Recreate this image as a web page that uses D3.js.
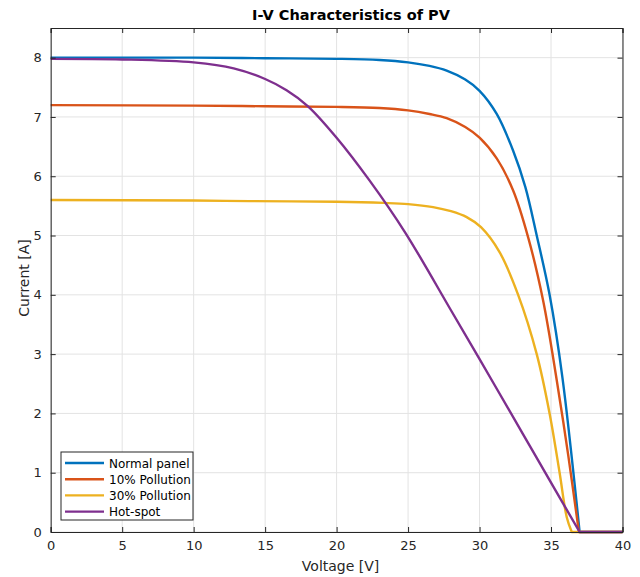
<!DOCTYPE html>
<html>
<head>
<meta charset="utf-8">
<script src="https://cdn.jsdelivr.net/npm/d3@7"></script>
<style>
  body { margin: 0; background: #fff; }
  svg { display: block; font-family: "DejaVu Sans", sans-serif; }
</style>
</head>
<body>
<div id="chart"></div>
<script>
// series: voltage [V] and current [A]
const normalV = [0, 10, 15, 20, 23, 25, 26.5, 27.7, 29, 30, 31.2, 32.35, 33.2, 34, 34.9, 35.8, 37.0, 40];
const normalI = [8.0, 8.0, 7.99, 7.98, 7.96, 7.92, 7.86, 7.78, 7.63, 7.44, 7.05, 6.43, 5.82, 5.0, 4.0, 2.6, 0, 0];

const poll10V = [0, 10, 15, 20, 23, 25, 26.5, 27.7, 29, 30, 31.2, 32.35, 33.4, 34.45, 35.4, 36.2, 36.95, 40];
const poll10I = [7.2, 7.19, 7.18, 7.17, 7.15, 7.11, 7.05, 6.98, 6.83, 6.65, 6.3, 5.76, 4.97, 3.9, 2.56, 1.3, 0, 0];

const poll30V = [0, 10, 13.9, 20, 23.3, 25, 26.75, 28, 29.1, 30.1, 31.4, 32.7, 34.0, 34.9, 35.6, 36.1, 36.45, 40];
const poll30I = [5.6, 5.59, 5.58, 5.57, 5.55, 5.53, 5.48, 5.41, 5.31, 5.14, 4.72, 4.0, 3.0, 2.0, 1.0, 0.25, 0, 0];

const hotV = [0, 5, 10, 12.8, 15, 16.5, 18, 20, 22.3, 24.8, 28, 31, 34, 37.0, 40];
const hotI = [7.98, 7.97, 7.92, 7.82, 7.64, 7.45, 7.18, 6.65, 5.93, 5.05, 3.74, 2.5, 1.25, 0, 0];

const seriesNames = ["Normal panel", "10% Pollution", "30% Pollution", "Hot-spot"];
const seriesColors = ["#0072BD", "#D95319", "#EDB120", "#7E2F8E"];

const xTicks = [0, 5, 10, 15, 20, 25, 30, 35, 40];
const yTicks = [0, 1, 2, 3, 4, 5, 6, 7, 8];

const W = 640, H = 577;
const margin = {top: 28, right: 17.5, bottom: 45, left: 50.7};
const width = W - margin.left - margin.right,
      height = H - margin.top - margin.bottom;

const svg = d3.select("#chart").append("svg")
  .attr("width", W).attr("height", H);

const g = svg.append("g")
  .attr("transform", `translate(${margin.left}, ${margin.top})`);

const x = d3.scaleLinear().domain([0, 40]).range([0, width]);
const y = d3.scaleLinear().domain([0, 8.5]).range([height, 0]);

// grid
g.append("g").selectAll("line").data(xTicks).join("line")
  .attr("x1", d => x(d)).attr("x2", d => x(d))
  .attr("y1", 0).attr("y2", height)
  .attr("stroke", "#e3e3e3").attr("stroke-width", 1);
g.append("g").selectAll("line").data(yTicks).join("line")
  .attr("y1", d => y(d)).attr("y2", d => y(d))
  .attr("x1", 0).attr("x2", width)
  .attr("stroke", "#e3e3e3").attr("stroke-width", 1);

// lines: smooth part up to the first zero current, then straight along 0
const series = [
  {v: normalV, i: normalI},
  {v: poll10V, i: poll10I},
  {v: poll30V, i: poll30I},
  {v: hotV, i: hotI}
];
const smooth = d3.line()
  .x(d => x(d[0])).y(d => y(d[1]))
  .curve(d3.curveCatmullRom.alpha(0.5));
const straight = d3.line()
  .x(d => x(d[0])).y(d => y(d[1]));

series.forEach((s, k) => {
  const pts = s.v.map((v, j) => [v, s.i[j]]);
  const z = s.i.indexOf(0);
  const path = smooth(pts.slice(0, z + 1)) + straight(pts.slice(z)).replace(/^M/, "L");
  g.append("path")
    .attr("fill", "none")
    .attr("stroke", seriesColors[k])
    .attr("stroke-width", 2.4)
    .attr("stroke-linejoin", "round")
    .attr("d", path);
});

// axes (ticks inward, box all round)
const axCol = "#262626";
const xb = g.append("g").attr("transform", `translate(0,${height})`)
  .call(d3.axisBottom(x).tickValues(xTicks).tickSize(-5).tickPadding(9));
const xt = g.append("g")
  .call(d3.axisTop(x).tickValues(xTicks).tickSize(-5).tickFormat(""));
const yl = g.append("g")
  .call(d3.axisLeft(y).tickValues(yTicks).tickSize(-5).tickPadding(9));
const yr = g.append("g").attr("transform", `translate(${width},0)`)
  .call(d3.axisRight(y).tickValues(yTicks).tickSize(-5).tickFormat(""));

[xb, xt, yl, yr].forEach(a => {
  a.selectAll("path").attr("stroke", axCol).attr("stroke-width", 1);
  a.selectAll("line").attr("stroke", axCol);
  a.selectAll("text").attr("fill", axCol)
    .style("font-family", "DejaVu Sans, sans-serif").style("font-size", "13px");
});

// title and labels
svg.append("text")
  .attr("x", 351).attr("y", 20)
  .attr("text-anchor", "middle")
  .style("font-size", "14.5px").style("font-weight", "bold")
  .attr("fill", "#000")
  .text("I-V Characteristics of PV");

svg.append("text")
  .attr("x", margin.left + width / 2 + 4).attr("y", 571)
  .attr("text-anchor", "middle")
  .style("font-size", "14px").attr("fill", axCol)
  .text("Voltage [V]");

svg.append("text")
  .attr("transform", `translate(29, ${margin.top + height / 2 - 2}) rotate(-90)`)
  .attr("text-anchor", "middle")
  .style("font-size", "14px").attr("fill", axCol)
  .text("Current [A]");

// legend
const leg = svg.append("g").attr("transform", "translate(61, 452)");
leg.append("rect")
  .attr("width", 132).attr("height", 68)
  .attr("fill", "#fff").attr("stroke", axCol).attr("stroke-width", 1);
seriesNames.forEach((name, k) => {
  const yy = 11 + k * 16.2;
  leg.append("line")
    .attr("x1", 4).attr("x2", 43).attr("y1", yy).attr("y2", yy)
    .attr("stroke", seriesColors[k]).attr("stroke-width", 2.4);
  leg.append("text")
    .attr("x", 48).attr("y", yy + 4.5)
    .style("font-size", "12px").attr("fill", "#000")
    .text(name);
});
</script>
</body>
</html>
